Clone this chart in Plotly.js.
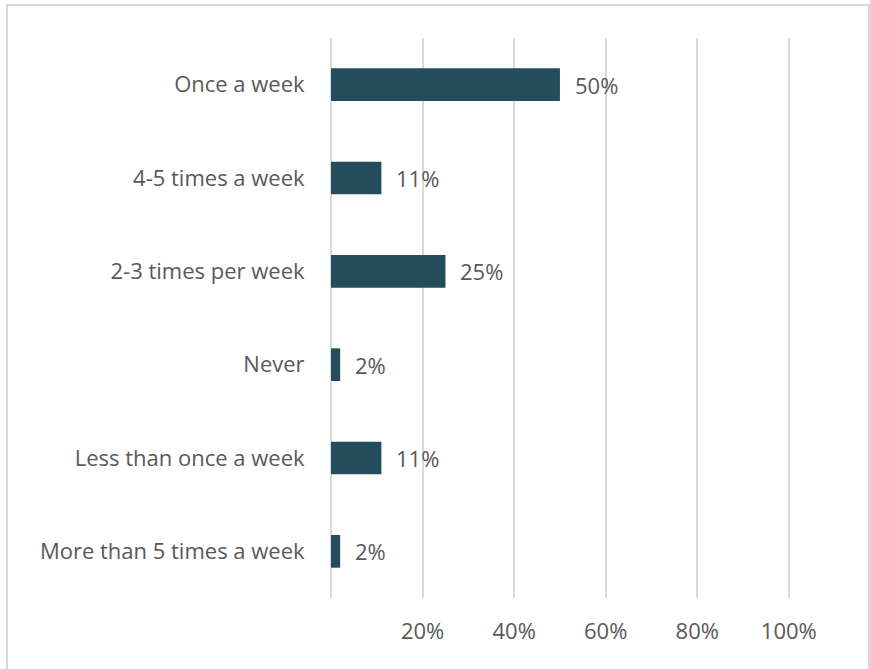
<!DOCTYPE html>
<html>
<head>
<meta charset="utf-8">
<script src="https://cdn.plot.ly/plotly-3.0.1.min.js"></script>
<style>html,body{margin:0;padding:0;background:#fff;}#chart{width:870px;height:669px;}</style>
</head>
<body>
<div id="chart"></div>
<script>
const categories = ["Once a week", "4-5 times a week", "2-3 times per week", "Never", "Less than once a week", "More than 5 times a week"];
const values = [0.50, 0.11, 0.25, 0.02, 0.11, 0.02];
const labels = ["50%", "11%", "25%", "2%", "11%", "2%"];
const tickVals = [0.2, 0.4, 0.6, 0.8, 1.0];
const tickText = ["20%", "40%", "60%", "80%", "100%"];

const textColor = "#595959";
const fontFamily = "'Open Sans', 'Noto Sans', sans-serif";
const fontSize = 22;

const trace = {
  type: "bar",
  orientation: "h",
  x: values,
  y: categories,
  width: 0.35,
  marker: {color: "#254c5a"},
  hoverinfo: "none"
};

const annotations = categories.map((c, i) => ({
  x: values[i], y: c, xref: "x", yref: "y",
  text: labels[i], showarrow: false, xanchor: "left", xshift: 13,
  font: {family: fontFamily, size: fontSize, color: textColor}
}));

const layout = {
  width: 870, height: 669,
  margin: {l: 331, r: 72, t: 38, b: 71},
  paper_bgcolor: "#fff", plot_bgcolor: "#fff",
  showlegend: false,
  xaxis: {
    range: [0, 1.02], tickvals: tickVals, ticktext: tickText,
    showgrid: true, gridcolor: "#d9d9d9", gridwidth: 2,
    zeroline: true, zerolinecolor: "#d9d9d9", zerolinewidth: 2,
    showline: false, ticks: "outside", ticklen: 14, tickcolor: "rgba(0,0,0,0)",
    tickfont: {family: fontFamily, size: fontSize, color: textColor},
    fixedrange: true
  },
  yaxis: {
    autorange: "reversed", showgrid: false, zeroline: false, showline: false,
    ticks: "outside", ticklen: 21, tickcolor: "rgba(0,0,0,0)",
    tickfont: {family: fontFamily, size: fontSize, color: textColor},
    fixedrange: true
  },
  annotations: annotations,
  shapes: [{
    type: "rect", xref: "paper", yref: "paper",
    x0: (7 - 331) / 467, x1: (869 - 331) / 467,
    y0: (598 - 672) / 560, y1: (598 - 5) / 560,
    line: {color: "#d9d9d9", width: 2}, fillcolor: "rgba(0,0,0,0)", layer: "below"
  }]
};

Plotly.newPlot("chart", [trace], layout, {displayModeBar: false, staticPlot: true});
</script>
</body>
</html>
